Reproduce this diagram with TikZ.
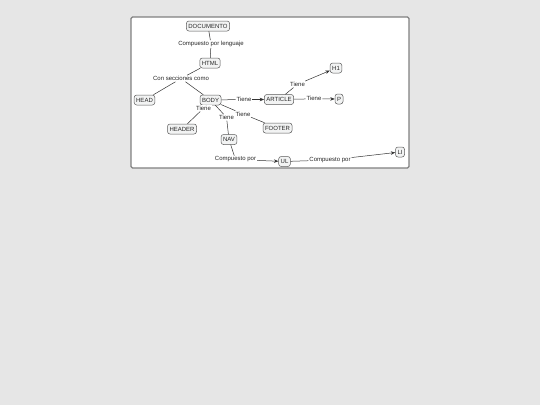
\documentclass[tikz,border=0pt]{standalone}
\usepackage{fontspec}
\setmainfont{Liberation Sans}
\usetikzlibrary{arrows.meta}
\definecolor{fondo}{HTML}{E6E6E6}
\definecolor{borde}{HTML}{5A5A5A}
\definecolor{caja}{HTML}{F2F3F3}
\begin{document}
\begin{tikzpicture}[x=1pt,y=-1pt,line width=0.5pt,>={Stealth[length=4.5pt,width=3.5pt]},font=\fontsize{6}{7}\selectfont,
	concepto/.style={draw=borde,fill=caja,rounded corners=2.5pt,inner xsep=2pt,inner ysep=0pt,minimum height=10pt,text height=4.4pt,text depth=0pt,text=black!85},
	enlace/.style={fill=white,inner sep=0.8pt,text=black!85}]
				\useasboundingbox[fill=fondo] (0,0) rectangle (540,405);
				\draw[gray,line width=1.2pt,fill=white,rounded corners=1.5pt] (131,17) rectangle (409,168);
				% conceptos
				\node[concepto] (doc) at (208,26) {DOCUMENTO};
				\node[concepto] (html) at (210,63) {HTML};
				\node[concepto] (head) at (144.5,100) {HEAD};
				\node[concepto] (body) at (210.5,100) {BODY};
				\node[concepto] (article) at (279,99.5) {ARTICLE};
				\node[concepto] (h1) at (336,68) {H1};
				\node[concepto] (p) at (339,99) {P};
				\node[concepto] (header) at (182,129) {HEADER};
				\node[concepto] (footer) at (277.5,128) {FOOTER};
				\node[concepto] (nav) at (229,139.5) {NAV};
				\node[concepto] (ul) at (284.5,161.5) {UL};
				\node[concepto] (li) at (400,152) {LI};
				% enlaces
				\node[enlace] (e1) at (211,44) {Compuesto por lenguaje};
				\node[enlace] (e2) at (181,78.5) {Con secciones como};
				\node[enlace] (e3) at (244,99.5) {Tiene};
				\node[enlace] (e4) at (297.5,84.3) {Tiene};
				\node[enlace] (e5) at (314,98.8) {Tiene};
				\node[enlace] (e6) at (203.5,108.3) {Tiene};
				\node[enlace] (e7) at (226.5,117.3) {Tiene};
				\node[enlace] (e8) at (243,114) {Tiene};
				\node[enlace] (e9) at (235.5,159.5) {Compuesto por};
				\node[enlace] (e10) at (330,160) {Compuesto por};
				% conectores
				\draw[black!80] (doc)--(e1)--(html);
				\draw[black!80] (html)--(e2)--(head) (e2)--(body);
				\draw[black!80] (body)--(e3) (body)--(e6)--(header) (body)--(e7)--(nav) (body)--(e8)--(footer);
				\draw[black!80] (article)--(e4) (article)--(e5) (nav)--(e9) (ul)--(e10);
				\draw[black!80,->] (e3)--(article);
				\draw[black!80,->] (e4)--(h1);
				\draw[black!80,->] (e5)--(p);
				\draw[black!80,->] (e9)--(ul);
				\draw[black!80,->] (e10)--(li);
			\end{tikzpicture}
\end{document}
